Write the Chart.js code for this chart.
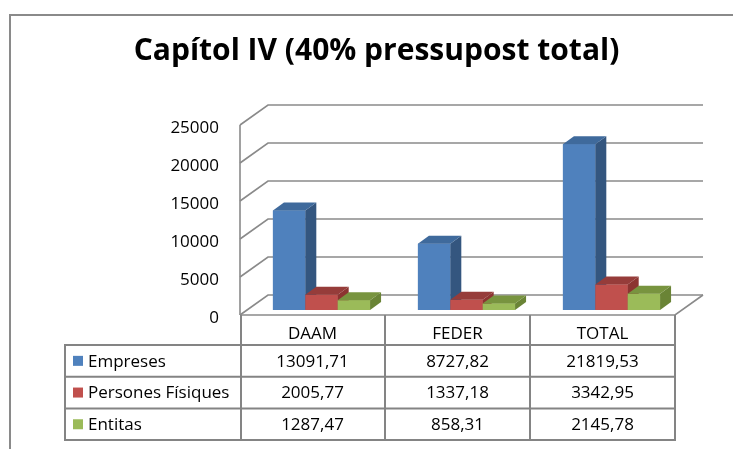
<!DOCTYPE html>
<html>
<head>
<meta charset="utf-8">
<script src="https://cdn.jsdelivr.net/npm/chart.js@4.4.1/dist/chart.umd.min.js"></script>
<style>
  html, body { margin: 0; padding: 0; background: #ffffff; }
  #wrap { width: 733px; height: 449px; }
</style>
</head>
<body>
<div id="wrap"><canvas id="c" width="733" height="449"></canvas></div>
<script>
// ---- data ----
const categories = ['DAAM', 'FEDER', 'TOTAL'];
const seriesNames = ['Empreses', 'Persones Físiques', 'Entitas'];
const empreses = [13091.71, 8727.82, 21819.53];
const personesFisiques = [2005.77, 1337.18, 3342.95];
const entitas = [1287.47, 858.31, 2145.78];
const yMin = 0, yMax = 25000, yStep = 5000;
const titleText = 'Capítol IV (40% pressupost total)';

// ---- styles ----
const frontColors = ['#4F81BD', '#C0504D', '#9BBB59'];
const sideColors  = ['#34567F', '#8C3431', '#6A8436'];
const topColors   = ['#3F6A9C', '#963C3A', '#78943F'];
const GRID = '#8a8a8a';
const LINE = '#848484';
const WALL = { dx: 28, dy: -20 };
const SHIFT = { dx: 9, dy: -5 };
const BARD = { dx: 11, dy: -8 };
const FONT = 'Open Sans';

function fmt(v) { return v.toFixed(2).replace('.', ','); }

const threeD = {
  id: 'threeD',
  beforeDraw(chart) {
    const ctx = chart.ctx;
    ctx.save();
    ctx.fillStyle = '#ffffff';
    ctx.fillRect(0, 0, chart.width, chart.height);
    ctx.strokeStyle = '#8a8a8a';
    ctx.lineWidth = 2;
    ctx.beginPath();
    ctx.moveTo(10, chart.height);
    ctx.lineTo(10, 15);
    ctx.lineTo(chart.width, 15);
    ctx.stroke();
    ctx.restore();
  },
  beforeDatasetsDraw(chart) {
    const { ctx, chartArea: { left, right, top, bottom }, scales: { y } } = chart;
    ctx.save();
    ctx.strokeStyle = GRID;
    ctx.lineWidth = 1.6;
    y.ticks.forEach(t => {
      const py = y.getPixelForValue(t.value);
      ctx.beginPath();
      ctx.moveTo(left, py);
      ctx.lineTo(left + WALL.dx, py + WALL.dy);
      ctx.lineTo(right + WALL.dx, py + WALL.dy);
      ctx.stroke();
    });
    ctx.beginPath();
    ctx.moveTo(left, top);
    ctx.lineTo(left, bottom);
    ctx.moveTo(left, bottom);
    ctx.lineTo(right, bottom);
    ctx.lineTo(right + WALL.dx, bottom + WALL.dy);
    ctx.stroke();
    ctx.restore();
    ctx.save();
    ctx.translate(SHIFT.dx, SHIFT.dy);
  },
  afterDatasetsDraw(chart) {
    const ctx = chart.ctx;
    const n = chart.data.labels.length;
    for (let c = 0; c < n; c++) {
      chart.data.datasets.forEach((ds, i) => {
        const el = chart.getDatasetMeta(i).data[c];
        if (!el) return;
        const { x, y, base, width } = el.getProps(['x', 'y', 'base', 'width'], true);
        const l = x - width / 2, r = x + width / 2;
        ctx.fillStyle = frontColors[i];
        ctx.fillRect(l, y, width, base - y);
        ctx.fillStyle = sideColors[i];
        ctx.beginPath();
        ctx.moveTo(r, y);
        ctx.lineTo(r + BARD.dx, y + BARD.dy);
        ctx.lineTo(r + BARD.dx, base + BARD.dy);
        ctx.lineTo(r, base);
        ctx.closePath();
        ctx.fill();
        ctx.fillStyle = topColors[i];
        ctx.beginPath();
        ctx.moveTo(l, y);
        ctx.lineTo(l + BARD.dx, y + BARD.dy);
        ctx.lineTo(r + BARD.dx, y + BARD.dy);
        ctx.lineTo(r, y);
        ctx.closePath();
        ctx.fill();
      });
    }
    ctx.restore();
  },
  afterDraw(chart) {
    const { ctx, chartArea: { left, right, bottom }, scales: { x } } = chart;
    const n = chart.data.labels.length;
    const catW = (right - left) / n;
    const headerH = 30, rowH = 31.7, tableLeft = 65;
    const rowsTop = bottom + headerH;
    const rowsBottom = rowsTop + rowH * chart.data.datasets.length;
    ctx.save();
    ctx.strokeStyle = LINE;
    ctx.lineWidth = 2;
    ctx.beginPath();
    for (let k = 0; k <= n; k++) {
      const px = left + k * catW + (k === 0 ? 1 : 0);
      ctx.moveTo(px, bottom);
      ctx.lineTo(px, rowsBottom);
    }
    ctx.moveTo(tableLeft, rowsTop);
    ctx.lineTo(tableLeft, rowsBottom);
    for (let r = 0; r <= chart.data.datasets.length; r++) {
      const py = rowsTop + r * rowH;
      ctx.moveTo(tableLeft - 1, py);
      ctx.lineTo(right + 1, py);
    }
    ctx.stroke();
    ctx.font = '17px "' + FONT + '"';
    ctx.textBaseline = 'middle';
    chart.data.datasets.forEach((ds, i) => {
      const cy = rowsTop + rowH * (i + 0.5);
      ctx.fillStyle = frontColors[i];
      ctx.fillRect(tableLeft + 8, cy - 5, 10, 10);
      ctx.fillStyle = '#000000';
      ctx.textAlign = 'left';
      ctx.fillText(ds.label, tableLeft + 23, cy + 1);
      ctx.textAlign = 'center';
      ds.data.forEach((v, c) => {
        ctx.fillText(fmt(v), x.getPixelForValue(c), cy + 1);
      });
    });
    ctx.restore();
  }
};

const datasets = [empreses, personesFisiques, entitas].map((d, i) => ({
  label: seriesNames[i],
  data: d,
  backgroundColor: frontColors[i],
  borderWidth: 0,
  clip: false,
  categoryPercentage: 0.67,
  barPercentage: 1.0
}));

Chart.defaults.font.family = FONT;
Chart.defaults.color = '#000000';

new Chart(document.getElementById('c'), {
  type: 'bar',
  data: { labels: categories, datasets },
  options: {
    responsive: false,
    animation: false,
    events: [],
    layout: { padding: { left: 78, right: 58, top: 0, bottom: 0 } },
    plugins: {
      legend: { display: false },
      tooltip: { enabled: false },
      title: {
        display: true,
        text: titleText,
        color: '#000000',
        font: { family: FONT, size: 30, weight: 'bold', lineHeight: 1.2 },
        padding: { top: 33.4, bottom: 55.6 }
      }
    },
    scales: {
      x: {
        grid: { display: false, drawTicks: false },
        border: { display: false },
        ticks: { padding: 9, font: { size: 17, family: FONT }, color: '#000000' },
        afterFit(scale) { scale.height = 134; }
      },
      y: {
        min: yMin, max: yMax,
        grid: { display: false, drawTicks: false },
        border: { display: false },
        ticks: {
          stepSize: yStep,
          padding: 21,
          labelOffset: 3,
          font: { size: 17, family: FONT },
          color: '#000000',
          callback: v => String(v)
        },
        afterFit(scale) { scale.width = 162; }
      }
    }
  },
  plugins: [threeD]
});
</script>
</body>
</html>
